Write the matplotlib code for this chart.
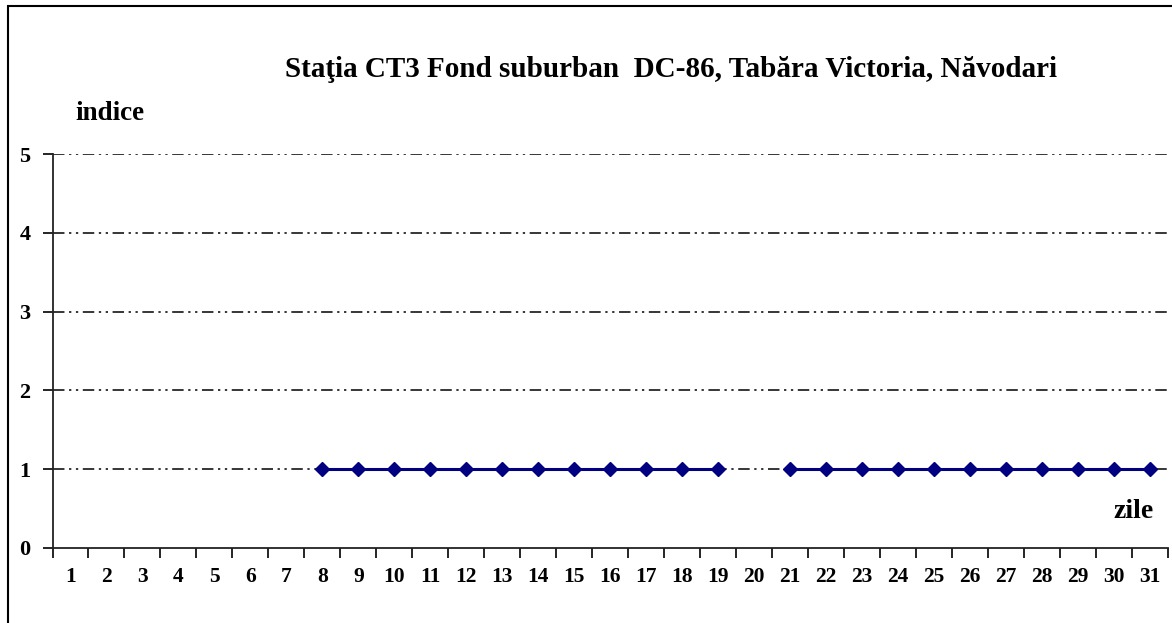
import numpy as np
import matplotlib
matplotlib.use("Agg")
import matplotlib.pyplot as plt
from matplotlib.patches import Rectangle

plt.rcParams['font.family'] = ['Liberation Serif', 'DejaVu Serif']
plt.rcParams['font.weight'] = 'bold'

# data: air quality index per day (missing days = nan)
days = list(range(1, 32))
indice = [np.nan] * 7 + [1] * 12 + [np.nan] + [1] * 11

title = "Staţia CT3 Fond suburban  DC-86, Tabăra Victoria, Năvodari"

fig = plt.figure(figsize=(11.72, 6.23), dpi=100)
ax = fig.add_axes([0.0448, 0.1204, 0.9518, 0.6324])

ax.plot(days, indice, color='#000080', lw=2.2, marker='D', ms=7.5,
        markerfacecolor='#000080', markeredgecolor='#000080', zorder=3)

ax.set_xlim(0.5, 31.5)
ax.set_ylim(0, 5)

# gridlines dash-dot-dot
for y in range(1, 6):
    ax.axhline(y, color='black', lw=1.1, dashes=(7.5, 3, 1.5, 3, 1.5, 3), zorder=1)

ax.set_yticks(range(0, 6))
ax.set_yticklabels([str(v) for v in range(0, 6)], fontsize=16, fontweight='bold')
ax.set_xticks(np.arange(0.5, 32, 1))
ax.set_xticklabels([])
ax.set_xticks(days, minor=True)
ax.set_xticklabels([str(d) for d in days], minor=True, fontsize=15.5, fontweight='bold')
ax.tick_params(axis='x', which='major', direction='out', length=7, width=1.2)
ax.tick_params(axis='x', which='minor', length=0, pad=14)
ax.tick_params(axis='y', direction='out', length=7, width=1.2, pad=9)

for s in ['top', 'right']:
    ax.spines[s].set_visible(False)
for s in ['left', 'bottom']:
    ax.spines[s].set_linewidth(1.3)
    ax.spines[s].set_color('#222222')

fig.text(0.5725, 0.8764, title, ha='center', va='baseline', fontsize=21, fontweight='bold')
fig.text(0.064, 0.807, "indice", ha='left', va='baseline', fontsize=19.5, fontweight='bold')
fig.text(0.984, 0.1685, "zile", ha='right', va='baseline', fontsize=20, fontweight='bold')

# outer frame
fig.patches.append(Rectangle((8 / 1172, -0.1), 1.2, 1 - 6 / 623 + 0.1,
                             transform=fig.transFigure, fill=False,
                             edgecolor='black', lw=1.5))

fig.savefig("out.png", dpi=100)
